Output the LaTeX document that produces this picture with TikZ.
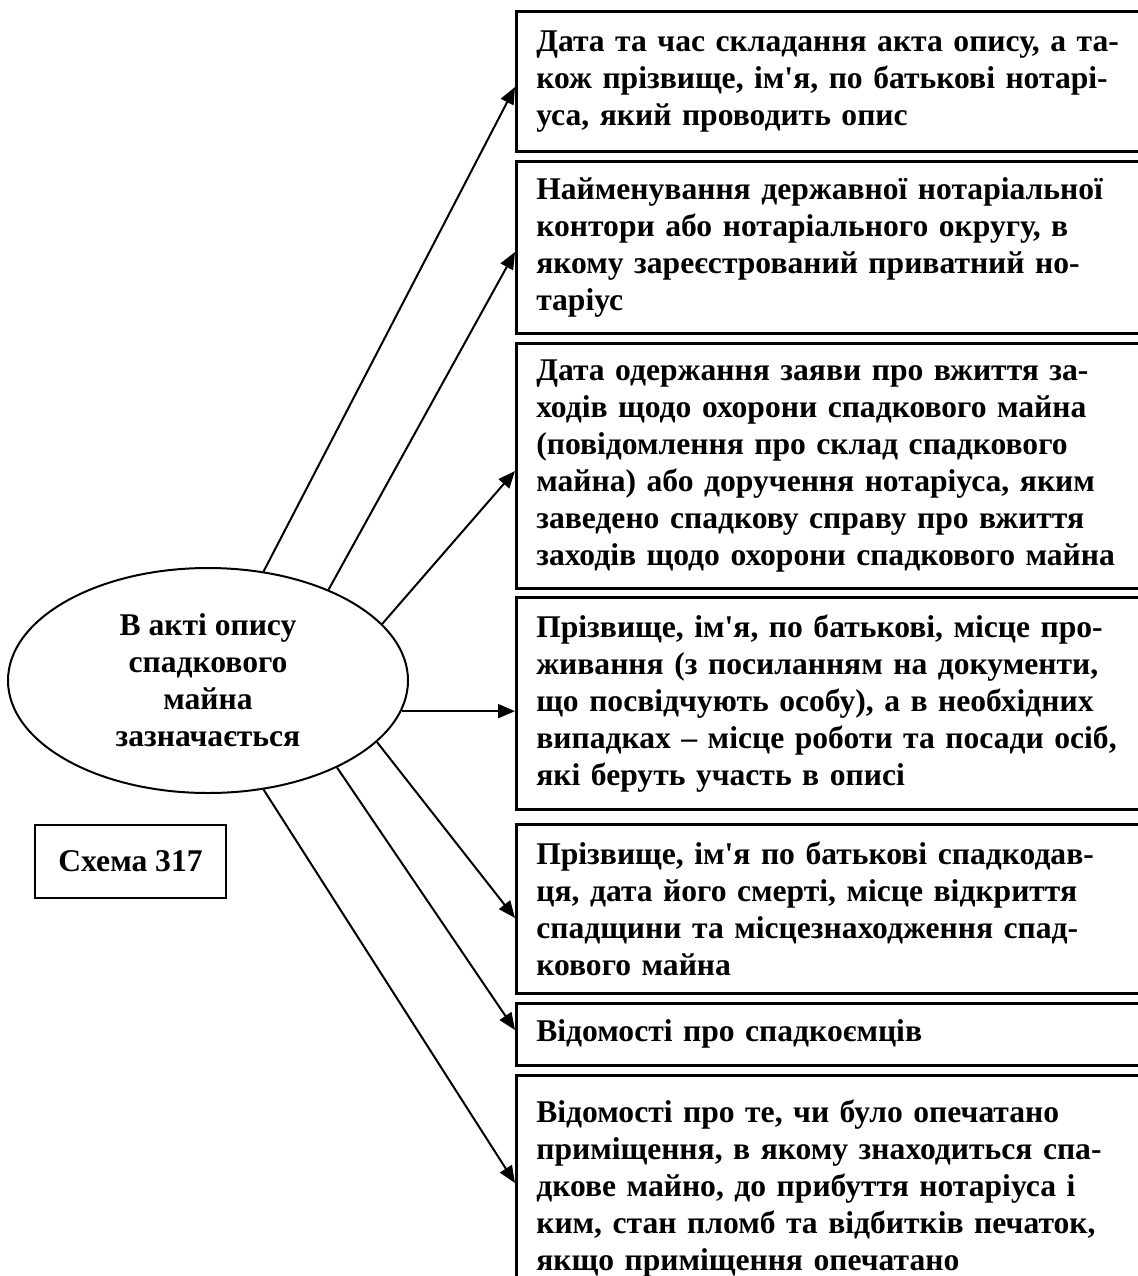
\documentclass[tikz,border=0pt]{standalone}
\usepackage{fontspec}
\setmainfont{Liberation Serif}[Ligatures=TeXOff]
\usetikzlibrary{shapes.geometric,arrows.meta}
\begin{document}
\begin{tikzpicture}[x=0.5pt,y=-0.5pt,
  txt/.style={font=\fontsize{15.8}{18.5}\selectfont\bfseries},
  infobox/.style={draw,line width=1.3pt,anchor=north west,inner xsep=10pt,inner ysep=0pt,text width=305pt,align=left,txt},
  conn/.style={line width=1pt,-{Triangle[length=8.5pt,width=7pt]}}]
\useasboundingbox (0,0) rectangle (1138,1276);
\clip (0,0) rectangle (1138,1276);
\node[infobox,minimum height=70pt] (b1) at (515,10) {Дата та час складання акта опису, а та-\\кож прізвище, ім'я, по батькові нотарі-\\уса, який проводить опис};
\node[infobox,minimum height=86pt] (b2) at (515,160) {Найменування державної нотаріальної\\контори або нотаріального округу, в\\якому зареєстрований приватний но-\\таріус};
\node[infobox,minimum height=122.5pt] (b3) at (515,342) {Дата одержання заяви про вжиття за-\\ходів щодо охорони спадкового майна\\(повідомлення про склад спадкового\\майна) або доручення нотаріуса, яким\\заведено спадкову справу про вжиття\\заходів щодо охорони спадкового майна};
\node[infobox,minimum height=106pt] (b4) at (515,596) {Прізвище, ім'я, по батькові, місце про-\\живання (з посиланням на документи,\\що посвідчують особу), а в необхідних\\випадках – місце роботи та посади осіб,\\які беруть участь в описі};
\node[infobox,minimum height=84.5pt] (b5) at (515,823) {Прізвище, ім'я по батькові спадкодав-\\ця, дата його смерті, місце відкриття\\спадщини та місцезнаходження спад-\\кового майна};
\node[infobox,minimum height=31pt] (b6) at (515,1002) {Відомості про спадкоємців};
\node[infobox,minimum height=113pt] (b7) at (515,1074) {Відомості про те, чи було опечатано\\приміщення, в якому знаходиться спа-\\дкове майно, до прибуття нотаріуса і\\ким, стан пломб та відбитків печаток,\\якщо приміщення опечатано};
\node[draw,ellipse,line width=1pt,minimum width=200pt,minimum height=112.5pt,inner sep=0pt,align=center,txt] (e) at (208,680.5) {В акті опису\\спадкового\\майна\\зазначається};
\node[draw,line width=1.3pt,minimum width=95.5pt,minimum height=36.5pt,inner sep=0pt,txt] (s) at (130.5,861.5) {Схема 317};
\coordinate (t1) at (515,87);
\coordinate (t2) at (515,252);
\coordinate (t3) at (515,471);
\coordinate (t4) at (e.-9.4 -| b4.west);
\coordinate (t5) at (515,918);
\coordinate (t6) at (515,1030);
\coordinate (t7) at (515,1183);
\draw[conn] (e.63.9) -- (t1);
\draw[conn] (e.37.9) -- (t2);
\draw[conn] (e.18.1) -- (t3);
\draw[conn] (e.-9.4) -- (t4);
\draw[conn] (e.-20.4) -- (t5);
\draw[conn] (e.-34.1) -- (t6);
\draw[conn] (e.-63.9) -- (t7);
\end{tikzpicture}
\end{document}
